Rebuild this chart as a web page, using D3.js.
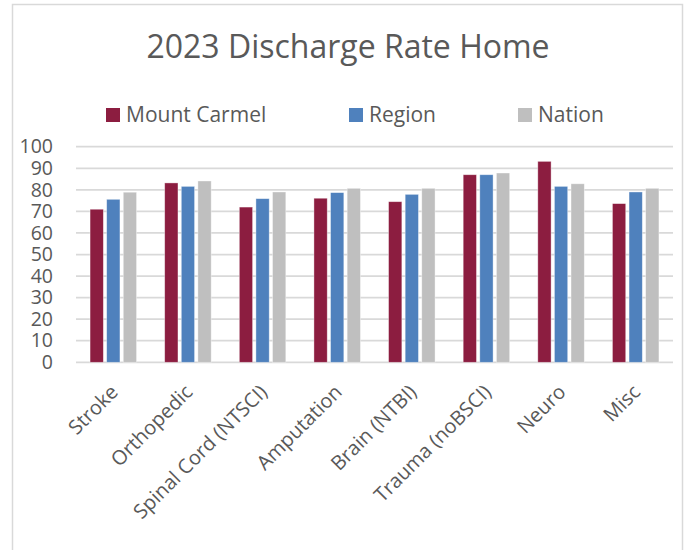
<!DOCTYPE html>
<html lang="en">
<head>
    <meta charset="UTF-8">
    <title>2023 Discharge Rate Home</title>
    <script src="https://d3js.org/d3.v7.min.js"></script>
    <style>
        body { margin: 0; background: #fff; }
        svg { display: block; font-family: "Open Sans", sans-serif; }
    </style>
</head>
<body>
    <div id="chart"></div>

    <script>
        // chart data
        const categories = ["Stroke", "Orthopedic", "Spinal Cord (NTSCI)", "Amputation",
                            "Brain (NTBI)", "Trauma (noBSCI)", "Neuro", "Misc"];
        const seriesNames = ["Mount Carmel", "Region", "Nation"];
        const mountCarmel = [71.0, 83.2, 72.0, 76.1, 74.5, 87.0, 93.2, 73.6];
        const region      = [75.6, 81.6, 75.9, 78.7, 77.9, 87.0, 81.6, 79.0];
        const nation      = [78.9, 84.1, 79.0, 80.7, 80.7, 87.8, 82.8, 80.7];
        const yTicks = [0, 10, 20, 30, 40, 50, 60, 70, 80, 90, 100];

        const colors = ["#8C1D40", "#4F81BD", "#BFBFBF"];
        const seriesValues = [mountCarmel, region, nation];

        const width = 688;
        const height = 550;
        const textColor = "#595959";

        const svg = d3.select("#chart")
            .append("svg")
            .attr("width", width)
            .attr("height", height);

        // chart area frame
        svg.append("rect")
            .attr("x", 12.5)
            .attr("y", 4.5)
            .attr("width", 670)
            .attr("height", 560)
            .attr("fill", "#fff")
            .attr("stroke", "#D9D9D9")
            .attr("stroke-width", 1.5);

        // title
        svg.append("text")
            .attr("x", 348)
            .attr("y", 58)
            .attr("text-anchor", "middle")
            .attr("font-size", 32)
            .attr("fill", textColor)
            .text("2023 Discharge Rate Home");

        // legend
        const legendX = [106, 349, 518];
        const legend = svg.append("g");
        seriesNames.forEach((name, i) => {
            legend.append("rect")
                .attr("x", legendX[i])
                .attr("y", 108)
                .attr("width", 14)
                .attr("height", 14)
                .attr("fill", colors[i]);
            legend.append("text")
                .attr("x", legendX[i] + 20)
                .attr("y", 122)
                .attr("font-size", 21)
                .attr("fill", textColor)
                .text(name);
        });

        // scales
        const plotLeft = 76, plotRight = 673;
        const plotTop = 146.7, plotBottom = 362.3;

        const x0 = d3.scaleBand()
            .domain(categories)
            .range([plotLeft, plotRight])
            .padding(0);

        const groupWidth = 46.5;
        const x1 = d3.scaleBand()
            .domain(seriesNames)
            .range([(x0.bandwidth() - groupWidth) / 2, (x0.bandwidth() + groupWidth) / 2])
            .paddingInner(0.2);

        const y = d3.scaleLinear()
            .domain([0, 100])
            .range([plotBottom, plotTop]);

        // gridlines
        svg.append("g")
            .selectAll("line")
            .data(yTicks)
            .join("line")
            .attr("x1", plotLeft)
            .attr("x2", plotRight)
            .attr("y1", d => y(d))
            .attr("y2", d => y(d))
            .attr("stroke", "#D9D9D9")
            .attr("stroke-width", 1.75);

        // y axis labels
        const yAxis = svg.append("g")
            .attr("transform", `translate(${plotLeft - 23},0)`)
            .call(d3.axisLeft(y).tickValues(yTicks).tickSize(0).tickPadding(0));
        yAxis.select(".domain").remove();
        yAxis.selectAll("text")
            .attr("font-family", "Open Sans, sans-serif")
            .attr("font-size", 19.5)
            .attr("fill", textColor);

        // bars
        const groups = svg.append("g")
            .selectAll("g")
            .data(categories)
            .join("g")
            .attr("transform", d => `translate(${x0(d)},0)`);

        groups.selectAll("rect")
            .data((d, ci) => seriesNames.map((s, si) => ({ s: s, i: si, v: seriesValues[si][ci] })))
            .join("rect")
            .attr("x", d => x1(d.s))
            .attr("y", d => y(d.v))
            .attr("width", x1.bandwidth())
            .attr("height", d => y(0) - y(d.v))
            .attr("fill", d => colors[d.i])
            .attr("stroke", "#fff")
            .attr("stroke-opacity", 0.5)
            .attr("stroke-width", 0.75);

        // x axis labels (rotated)
        svg.append("g")
            .selectAll("text")
            .data(categories)
            .join("text")
            .attr("transform", d => `translate(${x0(d) + x0.bandwidth() / 2 + 1},${plotBottom + 26}) rotate(-45)`)
            .attr("text-anchor", "end")
            .attr("dy", "0.35em")
            .attr("font-size", 20)
            .attr("fill", textColor)
            .text(d => d);
    </script>
</body>
</html>
